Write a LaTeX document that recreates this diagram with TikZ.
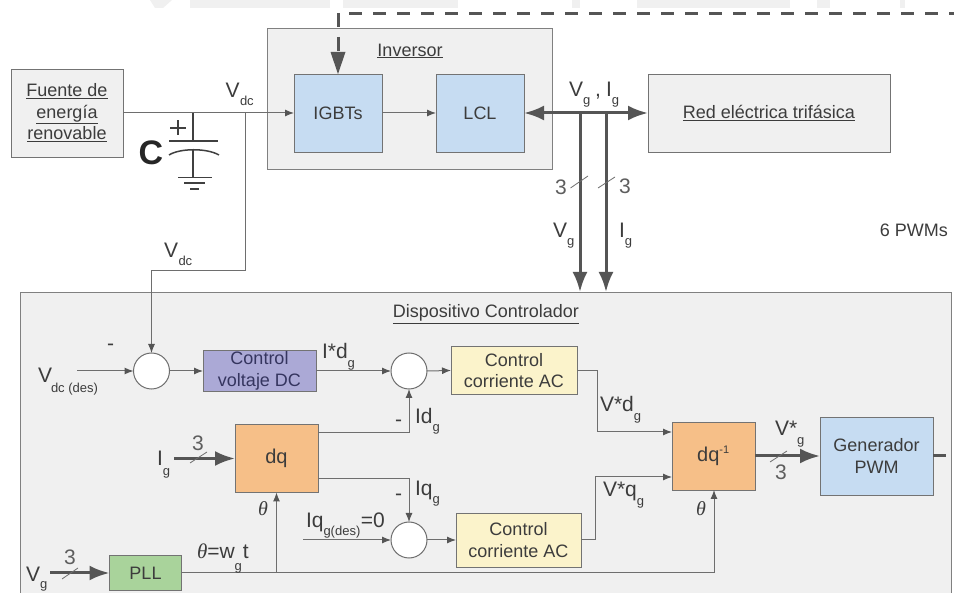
\documentclass[tikz,border=0pt]{standalone}
\usepackage{fontspec}
\setmainfont{Liberation Sans}
\newfontfamily\thfont{Liberation Serif}
\usetikzlibrary{arrows.meta}
\definecolor{txt}{HTML}{3C3C3C}
\definecolor{lne}{HTML}{6E6E6E}
\definecolor{thk}{HTML}{555555}
\definecolor{bgc}{HTML}{F0F0F0}
\definecolor{blu}{HTML}{C6DCF2}
\definecolor{pur}{HTML}{ABA9D6}
\definecolor{ora}{HTML}{F6BF88}
\definecolor{yel}{HTML}{FBF3CB}
\definecolor{grn}{HTML}{A9D39B}
\definecolor{nvy}{HTML}{35355F}
\newcommand{\sbs}[2][7.5pt]{\raisebox{-#1}{\fontsize{13}{13}\selectfont #2}}
\newcommand{\thsym}{{\thfont\itshape θ}}
\tikzset{
  x=1pt,y=-1pt,
  box/.style={draw=#1,rectangle,inner sep=0pt,outer sep=0pt,line width=0.9pt,align=center,text=txt,
     font=\fontsize{18}{21.5}\selectfont},
  box/.default={black!55},
  sumc/.style={circle,draw=lne,fill=white,line width=1pt,minimum size=36pt,inner sep=0pt,outer sep=0pt},
  thin arrow/.style={draw=lne,line width=1pt,-{Latex[length=9pt,width=7pt,color=thk]}},
  thin line/.style={draw=lne,line width=1pt},
  thick arrow/.style={draw=thk,line width=3pt,-{Latex[length=20pt,width=15pt,color=thk]}},
  slash/.style={draw=lne,line width=0.8pt},
  lbl/.style={anchor=base west,inner sep=0pt,outer sep=0pt,text=txt,font=\fontsize{21}{21}\selectfont},
  num/.style={inner sep=0pt,text=lne!85!black,font=\fontsize{21}{21}\selectfont},
  ttl/.style={inner sep=0pt,text=txt,font=\fontsize{18}{22}\selectfont},
  capline/.style={draw=black!75,line width=1.5pt},
  dashln/.style={draw=thk,line width=3pt,dash pattern=on 13pt off 11pt},
}
\begin{document}
\begin{tikzpicture}
\useasboundingbox (0,0) rectangle (954,593);
\clip (0,0) rectangle (954,593);
\fill[white] (0,0) rectangle (954,593);
% faint band along the top edge
\fill[bgc] (150,0) -- (172,0) -- (163,8) -- (155,8) -- cycle;
\fill[bgc] (190,0) rectangle (330,8);
\fill[bgc] (343,0) rectangle (458,8);
\fill[bgc] (572,0) rectangle (580,8);
\fill[bgc] (637,0) rectangle (790,8);
\fill[bgc] (817,0) rectangle (830,8);
\fill[bgc] (900,0) rectangle (905,8);

% containers
\node[box=black!50,fill=bgc,minimum width=285pt,minimum height=141pt] (inv) at (409.5,98.5) {};
\node[box=black!50,fill=bgc,minimum width=931pt,minimum height=340pt] (ctrl) at (485.5,462) {};

% blocks
\node[box,fill=bgc,minimum width=112pt,minimum height=88pt] (src) at (67,113) {\underline{Fuente de}\\\underline{energía}\\\underline{renovable}};
\node[box,fill=blu,minimum width=88pt,minimum height=78pt] (igbt) at (338,113) {IGBTs};
\node[box,fill=blu,minimum width=88pt,minimum height=78pt] (lcl) at (480,113) {LCL};
\node[box,fill=bgc,minimum width=242pt,minimum height=78pt] (red) at (769,113) {\underline{Red eléctrica trifásica}};
\node[box,fill=pur,minimum width=113pt,minimum height=41pt,text=nvy] (cvdc) at (259.5,371) {Control\\voltaje DC};
\node[box,fill=yel,minimum width=126pt,minimum height=48pt] (cac1) at (514,370.5) {Control\\corriente AC};
\node[box,fill=yel,minimum width=125pt,minimum height=54pt] (cac2) at (518.5,540) {Control\\corriente AC};
\node[box,fill=ora,minimum width=83pt,minimum height=68pt,font=\fontsize{20}{22}\selectfont] (dq) at (276.5,458.5) {dq};
\node[box,fill=ora,minimum width=83pt,minimum height=68pt,font=\fontsize{20}{22}\selectfont] (dqi) at (713.5,456) {dq\textsuperscript{\fontsize{11}{11}\selectfont -1}};
\node[box,fill=blu,minimum width=113pt,minimum height=78pt] (pwm) at (876.5,456) {Generador\\PWM};
\node[box,fill=grn,minimum width=72pt,minimum height=35pt] (pll) at (145.5,573) {PLL};
\node[sumc] (s1) at (151.5,371) {};
\node[sumc] (s2) at (409,371) {};
\node[sumc] (s3) at (409,540) {};

% free ends and junctions
\coordinate (jdc) at (245,113);
\coordinate (jv) at (580,113);
\coordinate (ji) at (606,113);
\coordinate (jth) at (276.5,573);
\coordinate (vdes) at (77,371);
\coordinate (iqdes) at (303,540);
\coordinate (igin) at (174,458.5);
\coordinate (vgin) at (50,573);
\coordinate (dashA) at (338,13);
\coordinate (dashB) at (349,14);
\coordinate (dashC) at (954,14);
\coordinate (pwmout) at (946,456);

% dashed PWM bus
\draw[dashln] (dashB) -- (dashC);
\draw[thk,line width=3pt,dash pattern=on 14pt off 10pt] (dashA) -- (338,56);
\fill[thk] (igbt.north) -- (330.5,52) -- (345.5,52) -- cycle;

% power path
\draw[thin arrow] (src.east) -- (igbt.west);
\draw[thin arrow] (igbt.east) -- (lcl.west);
\draw[draw=thk,line width=3pt,{Latex[length=20pt,width=15pt,color=thk]}-{Latex[length=20pt,width=15pt,color=thk]}] (lcl.east) -- (red.west);
\draw[thick arrow] (jv) -- (jv |- ctrl.north);
\draw[thick arrow] (ji) -- (ji |- ctrl.north);
\draw[thin arrow] (jdc) -- (245,271) -- (151.5,271) -- (s1.north);

% capacitor
\coordinate (capT) at (193,113);
\draw[capline] (capT) -- (193,141);
\draw[capline] (169,141) -- (218,141);
\draw[capline] (169,155) .. controls (180,148) and (207,148) .. (219,155);
\draw[capline] (193,150) -- (193,177.5);
\draw[capline] (178,177.5) -- (212,177.5);
\draw[capline,line width=1.2pt] (184,183) -- (205,183);
\draw[capline,line width=1.2pt] (190,189) -- (199,189);
\draw[capline] (170,128) -- (186,128) (178,120.5) -- (178,135.5);
\node[inner sep=0pt,text=black!85,font=\bfseries\fontsize{34}{34}\selectfont] (cl) at (151,153) {C};

% control path
\draw[thin arrow] (vdes) -- (s1.west);
\draw[thin arrow] (s1.east) -- (cvdc.west);
\draw[thin arrow] (cvdc.east) -- (s2.west);
\draw[thin arrow] (s2.east) -- (cac1.west);
\draw[thin arrow] (318,433) -| (s2.south);
\draw[thin arrow] (318,479) -| (s3.north);
\draw[thin arrow] (iqdes) -- (s3.west);
\draw[thin arrow] (s3.east) -- (cac2.west);
\draw[thin arrow] (cac1.east) -- (597,370.5) -- (597,432) -- (672,432);
\draw[thin arrow] (cac2.east) -- (595.5,540) -- (595.5,477) -- (672,477);
\draw[thick arrow] (igin) -- (dq.west);
\draw[thick arrow] (vgin) -- (pll.west);
\draw[thick arrow] (dqi.east) -- (pwm.west);
\draw[draw=thk,line width=3pt] (pwm.east) -- (pwmout);
\draw[thin arrow] (pll.east) -- (714,573) -- (714,490);
\draw[thin arrow] (jth) -- (dq.south);

% slashes
\draw[slash] (570.5,188) -- (588,176);
\draw[slash] (598,188) -- (615,177);
\draw[slash] (190,463) -- (207,452);
\draw[slash] (62,579) -- (78,568);
\draw[slash] (770,462) -- (787,451);

% titles
\node[ttl] (t1) at (410,51) {\underline{Inversor}};
\node[ttl] (t2) at (486,314) {\underline{Dispositivo Controlador}};
\node[ttl,anchor=east] (t3) at (948,230) {6 PWMs};

% labels
\node[lbl] (l1) at (225.5,98) {V\hspace{0.5pt}\sbs{dc}};
\node[lbl] (l2) at (164,258) {V\hspace{0.5pt}\sbs{dc}};
\node[lbl] (l3) at (569,97) {V\sbs{g}\hspace{5pt},\hspace{5pt}I\sbs{g}};
\node[lbl] (l4) at (553,238) {V\sbs{g}};
\node[lbl] (l5) at (619,238) {I\sbs{g}};
\node[num] (n1) at (561,187) {3};
\node[num] (n2) at (625,186) {3};
\node[lbl] (l6) at (38,383) {V\hspace{-1pt}\sbs[10pt]{dc (des)}};
\node[lbl] (l7) at (322,359) {I*d\sbs[9pt]{g}};
\node[lbl] (l8) at (415,424) {Id\sbs{g}};
\node[lbl] (l9) at (415,496) {Iq\sbs{g}};
\node[lbl] (l10) at (157,466) {I\sbs[10pt]{g}};
\node[num] (n3) at (198,443) {3};
\node[num] (n4) at (70,557) {3};
\node[lbl,font=\fontsize{20}{20}\selectfont] (th1) at (258,516) {\thsym};
\node[lbl,font=\fontsize{20}{20}\selectfont] (th2) at (696,516) {\thsym};
\node[lbl] (l11) at (197,559) {\thsym=w\sbs[11pt]{g}\hspace{1pt}t};
\node[lbl] (l12) at (306,528) {Iq\sbs[8pt]{g(des)}\hspace{0.5pt}=0};
\node[lbl] (l13) at (26,582) {V\sbs[6.5pt]{g}};
\node[lbl] (l14) at (600,412) {V*d\sbs[9pt]{g}};
\node[lbl] (l15) at (603,497) {V*q\sbs[9pt]{g}};
\node[lbl] (l16) at (775,436) {V*\sbs[9pt]{g}};
\node[num] (n5) at (781,472) {3};
\node[lbl] (m1) at (107,351) {-};
\node[lbl] (m2) at (395,427) {-};
\node[lbl] (m3) at (395,501) {-};
\end{tikzpicture}
\end{document}
